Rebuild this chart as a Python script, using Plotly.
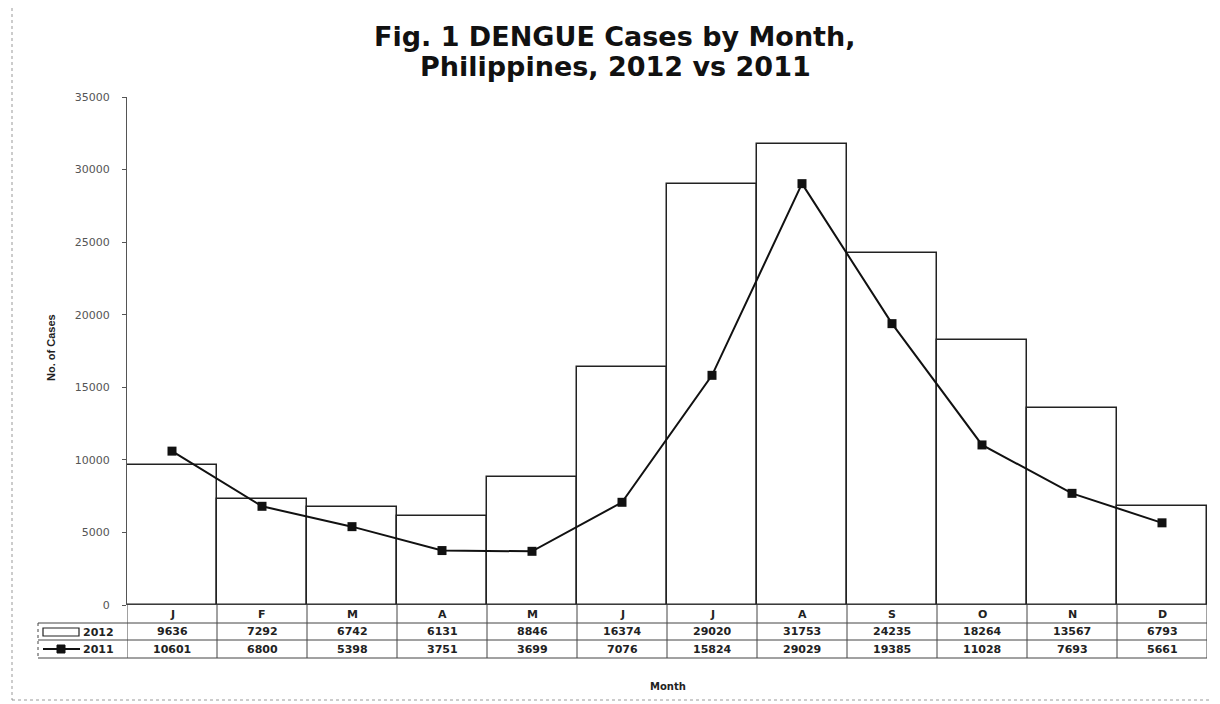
import plotly.graph_objects as go

months = ["J", "F", "M", "A", "M", "J", "J", "A", "S", "O", "N", "D"]
cases_2012 = [9636, 7292, 6742, 6131, 8846, 16374, 29020, 31753, 24235, 18264, 13567, 6793]
cases_2011 = [10601, 6800, 5398, 3751, 3699, 7076, 15824, 29029, 19385, 11028, 7693, 5661]
y_ticks = [0, 5000, 10000, 15000, 20000, 25000, 30000, 35000]
title_lines = ["Fig. 1 DENGUE Cases by Month,", "Philippines, 2012 vs 2011"]

OFF = 8  # page body margin
W, H = 1220 - OFF, 704 - OFF
# plot area in screen pixels
SX0, SX1, SY0, SY1 = 127, 1207, 97, 605
L, R = SX0 - OFF, W - (SX1 - OFF)
T, B = SY0 - OFF, H - (SY1 - OFF)
PW, PH = SX1 - SX0, SY1 - SY0

def py(p):
    return (SY1 - p) / PH

def px(p):
    return (p - SX0) / PW

xs = list(range(len(months)))

fig = go.Figure()
fig.add_trace(go.Bar(x=xs, y=cases_2012, width=1.0, name="2012",
                     marker=dict(color="white", line=dict(color="#222", width=1.5)),
                     showlegend=False))
fig.add_trace(go.Scatter(x=xs, y=cases_2011, mode="lines+markers", name="2011",
                         line=dict(color="#111", width=2),
                         marker=dict(symbol="square", size=9, color="#111"),
                         showlegend=False))

shapes = []
annots = []
grey = "#444"
row_top, r1, r2, r3 = 605, 623, 640, 658
for yy in [r1, r2, r3]:
    shapes.append(dict(type="line", xref="paper", yref="paper", x0=px(38), x1=1.0,
                       y0=py(yy), y1=py(yy), line=dict(color=grey, width=1)))
shapes.append(dict(type="line", xref="paper", yref="paper", x0=px(38), x1=px(38),
                   y0=py(r1), y1=py(r3), line=dict(color=grey, width=1, dash="dot")))
for i in range(len(months) + 1):
    shapes.append(dict(type="line", xref="x", yref="paper", x0=i - 0.5, x1=i - 0.5,
                       y0=py(row_top), y1=py(r3), line=dict(color=grey, width=1)))
tf = dict(size=11, family="DejaVu Sans", color="#222", weight="bold")
for i, m in enumerate(months):
    annots.append(dict(x=i, y=py((row_top + r1) / 2), xref="x", yref="paper", text=m,
                       showarrow=False, font=tf, yanchor="middle"))
    annots.append(dict(x=i, y=py((r1 + r2) / 2), xref="x", yref="paper", text=str(cases_2012[i]),
                       showarrow=False, font=tf, yanchor="middle"))
    annots.append(dict(x=i, y=py((r2 + r3) / 2), xref="x", yref="paper", text=str(cases_2011[i]),
                       showarrow=False, font=tf, yanchor="middle"))
# legend keys
shapes.append(dict(type="rect", xref="paper", yref="paper", x0=px(43), x1=px(79),
                   y0=py(636), y1=py(628), line=dict(color="#222", width=1.2), fillcolor="white"))
shapes.append(dict(type="line", xref="paper", yref="paper", x0=px(43), x1=px(80),
                   y0=py(649), y1=py(649), line=dict(color="#111", width=2)))
shapes.append(dict(type="rect", xref="paper", yref="paper", x0=px(57), x1=px(65),
                   y0=py(653), y1=py(645), line=dict(color="#111", width=1), fillcolor="#111"))
lf = dict(size=11, family="DejaVu Sans", color="#222", weight="bold")
annots.append(dict(x=px(81), y=py(632), xref="paper", yref="paper", text="2012", xanchor="left",
                   yanchor="middle", showarrow=False, font=lf))
annots.append(dict(x=px(81), y=py(649), xref="paper", yref="paper", text="2011", xanchor="left",
                   yanchor="middle", showarrow=False, font=lf))
annots.append(dict(x=px(668), y=py(686), xref="paper", yref="paper", text="Month",
                   yanchor="middle", showarrow=False,
                   font=dict(size=10, family="DejaVu Sans", color="#222", weight="bold")))
annots.append(dict(x=px(43), y=py(348), xref="paper", yref="paper",
                   text="No. of Cases", textangle=-90, showarrow=False, yanchor="middle",
                   font=dict(size=11, family="Liberation Sans Narrow, Arial", color="#222",
                             weight="bold")))
# title (two lines)
title_font = dict(size=27, family="DejaVu Sans", color="#111", weight="bold")
for txt, yc in zip(title_lines, [37, 66]):
    annots.append(dict(x=px(615), y=py(yc), xref="paper", yref="paper", text=txt,
                       xanchor="center", yanchor="middle", showarrow=False, font=title_font))
# outer dashed border
shapes.append(dict(type="rect", xref="paper", yref="paper", x0=px(12), x1=px(1214),
                   y0=py(700), y1=py(5), line=dict(color="#999", width=1, dash="dot")))

fig.update_layout(
    width=W, height=H,
    margin=dict(l=L, r=R, t=T, b=B),
    paper_bgcolor="white", plot_bgcolor="white",
    xaxis=dict(range=[-0.5, 11.5], showticklabels=False, ticks="", showgrid=False,
               zeroline=False, showline=False),
    yaxis=dict(range=[0, 35000], tickvals=y_ticks, ticktext=[str(v) for v in y_ticks],
               showgrid=False, zeroline=False, showline=True, linecolor="#555", linewidth=1,
               ticks="outside", ticklen=4, tickcolor="#555", ticklabelstandoff=10,
               tickfont=dict(size=11, family="DejaVu Sans", color="#555")),
    shapes=shapes, annotations=annots,
    bargap=0,
)
fig.add_hline(y=0, line=dict(color="#555", width=1))

fig.write_html("out.html")
